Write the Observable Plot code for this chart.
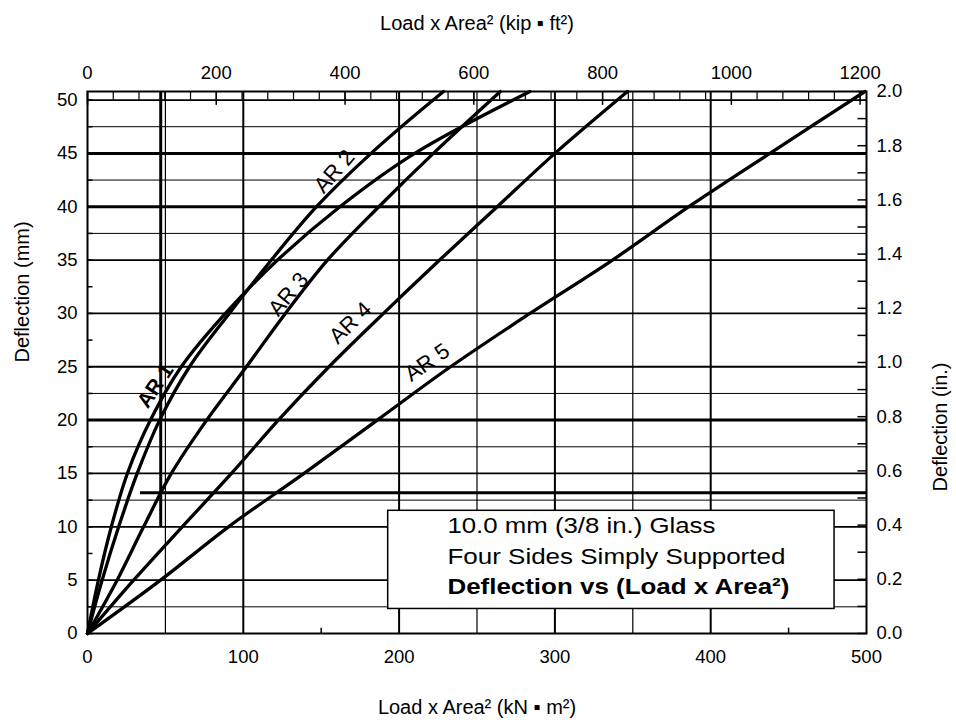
<!DOCTYPE html>
<html>
<head>
<meta charset="utf-8">
<script src="https://cdn.jsdelivr.net/npm/d3@7"></script>
<script src="https://cdn.jsdelivr.net/npm/@observablehq/plot@0.6"></script>
<style>
  html, body { margin: 0; padding: 0; background: #fff; }
  #chart { width: 956px; height: 723px; }
</style>
</head>
<body>
<div id="chart"></div>
<script>
// ---- data (x: Load x Area^2 in kN·m^2, y: deflection in mm) ----
const deflection = [0, 5, 10, 15, 20, 25, 30, 35, 40, 45, 50.8];
const loadAR1 = [0, 7.0, 15.3, 25.6, 40.4, 60.2, 88.5, 122, 162, 210, 284];
const loadAR2 = [0, 9.4, 20.0, 31.9, 46.3, 65.5, 91, 118, 147, 182, 228.5];
const loadAR3 = [0, 19, 36, 53.8, 76.5, 102, 127, 154, 187, 222, 265];
const loadAR4 = [0, 29.6, 60.8, 92.4, 122.5, 155, 190, 226, 263, 300, 346.6];
const loadAR5 = [0, 46.9, 90.5, 139, 186, 233, 284, 337, 386, 438, 499];
const seriesNames = ["AR 1", "AR 2", "AR 3", "AR 4", "AR 5"];
const seriesLoads = [loadAR1, loadAR2, loadAR3, loadAR4, loadAR5];

// curve label anchors (data units) and angles
const labelLoad = [43.6, 158.5, 129, 168.8, 218];
const labelDefl = [23.2, 43.3, 31.8, 29.1, 25.4];
const labelAngle = [-56, -49, -50, -44, -35];

// axis ticks
const bottomTicks = [0, 100, 200, 300, 400, 500];
const leftTicks = [0, 5, 10, 15, 20, 25, 30, 35, 40, 45, 50];
const topTicksKip = [0, 200, 400, 600, 800, 1000, 1200];
const topMinorKip = d3.range(0, 1201, 40);
const rightTicksIn = [0, 0.2, 0.4, 0.6, 0.8, 1.0, 1.2, 1.4, 1.6, 1.8, 2.0];
const rightMinorIn = d3.range(0, 2.001, 0.1);
const leftMinor = d3.range(0, 50.01, 2.5);
const bottomMinor = [150, 450];

// grid
const gridYHeavy = [45, 40, 20];
const gridYMedium = [50, 35, 30, 25, 15, 10, 5];
const gridYLight = [47.5, 42.5, 37.5, 22.5, 17.5, 12.5, 2.5];
const gridXMedium = [100, 200, 300, 400];
const gridXLight = [50, 250, 350];

// limit lines drawn on the chart
const limitV = [{x: 47, y1: 10, y2: 50.8}];
const limitH = [{y: 13.2, x1: 34, x2: 500}];

const legendLines = ["10.0 mm (3/8 in.) Glass", "Four Sides Simply Supported", "Deflection vs (Load x Area²)"];
const legendY = [10.12, 7.15, 4.35];
const legendWidths = [268, 338, 342];

const KIP_PER_KN = 2.41983;   // kip·ft² per kN·m²
const MM_PER_IN = 25.4;

const rows = [];
seriesLoads.forEach((arr, i) => arr.forEach((v, j) => rows.push({name: seriesNames[i], load: v, defl: deflection[j]})));
const labels = seriesNames.map((n, i) => ({name: n, x: labelLoad[i], y: labelDefl[i], a: labelAngle[i]}));
const legend = legendLines.map((t, i) => ({t, y: legendY[i]}));

const font = "'Liberation Sans', Arial, Helvetica, sans-serif";

const chart = Plot.plot({
  width: 956,
  height: 723,
  marginLeft: 87,
  marginRight: 90,
  marginTop: 91,
  marginBottom: 90,
  x: {domain: [0, 500], axis: null},
  y: {domain: [0, 50.8], axis: null},
  style: {fontFamily: font, background: "white", color: "black", overflow: "visible"},
  marks: [
    Plot.ruleY(gridYLight, {stroke: "black", strokeWidth: 1}),
    Plot.ruleY(gridYMedium, {stroke: "black", strokeWidth: 1.8}),
    Plot.ruleY(gridYHeavy, {stroke: "black", strokeWidth: 3}),
    Plot.ruleX(gridXLight, {stroke: "black", strokeWidth: 1.2}),
    Plot.ruleX(gridXMedium, {stroke: "black", strokeWidth: 2}),
    // top strip ticks (kip·ft²)
    Plot.ruleX(topMinorKip, {x: d => d / KIP_PER_KN, y1: 50, y2: 50.8, stroke: "black", strokeWidth: 1.2}),
    Plot.ruleX(topTicksKip, {x: d => d / KIP_PER_KN, y1: 49.5, y2: 50.8, stroke: "black", strokeWidth: 1.5}),
    // limit lines
    Plot.ruleX(limitV, {x: "x", y1: "y1", y2: "y2", stroke: "black", strokeWidth: 3}),
    Plot.ruleY(limitH, {y: "y", x1: "x1", x2: "x2", stroke: "black", strokeWidth: 3}),
    // inward ticks
    Plot.ruleY(leftMinor, {x1: 0, x2: 3.5, stroke: "black", strokeWidth: 1.5}),
    Plot.ruleY(rightMinorIn, {y: d => d * MM_PER_IN, x1: 494.5, x2: 500, stroke: "black", strokeWidth: 1.5}),
    Plot.ruleX(bottomMinor, {y1: 0, y2: 0.5, stroke: "black", strokeWidth: 1.5}),
    // curves
    Plot.line(rows, {x: "load", y: "defl", z: "name", stroke: "black", strokeWidth: 3.3, curve: "catmull-rom"}),
    // curve labels
    Plot.text(labels.slice(0, 1), {x: "x", y: "y", text: "name", rotate: "a", fontSize: 21, fontWeight: "bold", fill: "black"}),
    Plot.text(labels.slice(1), {x: "x", y: "y", text: "name", rotate: "a", fontSize: 22, fill: "black"}),
    // legend box
    Plot.rect([0], {x1: 193, x2: 479.5, y1: 2.3, y2: 11.5, fill: "white", stroke: "black", strokeWidth: 1.5}),
    Plot.text(legend.slice(0, 2), {x: 231, y: "y", text: "t", textAnchor: "start", fontSize: 22.5, fill: "black"}),
    Plot.text(legend.slice(2), {x: 231, y: "y", text: "t", textAnchor: "start", fontSize: 22.5, fontWeight: "bold", fill: "black"}),
    Plot.frame({stroke: "black", strokeWidth: 2}),
    // tick labels
    Plot.text(bottomTicks, {x: d => d, frameAnchor: "bottom", lineAnchor: "top", dy: 16, text: d => String(d), fontSize: 18.5, fill: "black"}),
    Plot.text(leftTicks, {y: d => d, frameAnchor: "left", textAnchor: "end", dx: -10, text: d => String(d), fontSize: 18.5, fill: "black"}),
    Plot.text(topTicksKip, {x: d => d / KIP_PER_KN, frameAnchor: "top", lineAnchor: "bottom", dy: -13, text: d => String(d), fontSize: 18.5, fill: "black"}),
    Plot.text(rightTicksIn, {y: d => d * MM_PER_IN, frameAnchor: "right", textAnchor: "start", dx: 10, text: d => d.toFixed(1), fontSize: 18.5, fill: "black"}),
    // axis titles
    Plot.text(["Load x Area² (kip ▪ ft²)"], {frameAnchor: "top", dy: -76, text: d => d, fontSize: 20, fill: "black"}),
    Plot.text(["Load x Area² (kN ▪ m²)"], {frameAnchor: "bottom", dy: 80, text: d => d, fontSize: 20, fill: "black"}),
    Plot.text(["Deflection (mm)"], {frameAnchor: "left", dx: -65, rotate: -90, text: d => d, fontSize: 20, fill: "black"}),
    Plot.text(["Deflection (in.)"], {frameAnchor: "right", dx: 74, rotate: -90, text: d => d, fontSize: 20, fill: "black"})
  ]
});
document.getElementById("chart").appendChild(chart);

// stretch the legend lines to the widths they have in the reference
d3.select(chart).selectAll("text").each(function () {
  const i = legendLines.indexOf(this.textContent);
  if (i >= 0) {
    this.setAttribute("textLength", legendWidths[i]);
    this.setAttribute("lengthAdjust", "spacingAndGlyphs");
  }
});
</script>
</body>
</html>
